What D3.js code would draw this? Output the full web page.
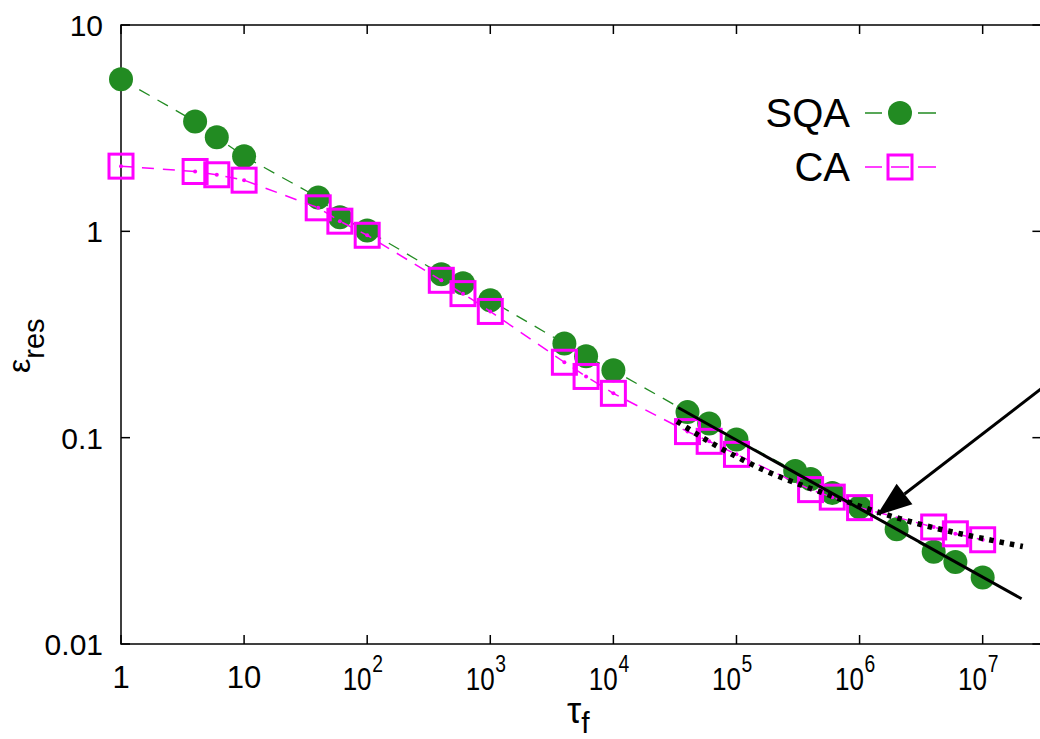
<!DOCTYPE html>
<html>
<head>
<meta charset="utf-8">
<style type="text/css">
html, body{
	padding: 0;
	margin: 0;
	background: white;
}
text {
	font-family: "Liberation Sans", Arial, sans-serif;
	fill: black;
}
</style>
</head>
<body>
<svg width=1040 height=739></svg>

<script type="text/javascript" src="https://cdn.jsdelivr.net/npm/d3@7"></script>
<script type="text/javascript">
// data
var sqaTau = [1,4,6,10,40,60,100,400,600,1000,4000,6000,1e4,4e4,6e4,1e5,3e5,4e5,6e5,1e6,2e6,4e6,6e6,1e7];
var sqaEps = [5.46,3.41,2.86,2.31,1.46,1.17,1.01,0.62,0.56,0.463,0.286,0.248,0.212,0.133,0.117,0.098,0.069,0.063,0.054,0.046,0.036,0.028,0.025,0.021];
var caTau = [1,4,6,10,40,60,100,400,600,1000,4000,6000,1e4,4e4,6e4,1e5,4e5,6e5,1e6,4e6,6e6,1e7];
var caEps = [2.07,1.95,1.88,1.77,1.30,1.12,0.957,0.579,0.499,0.409,0.232,0.198,0.164,0.107,0.096,0.083,0.056,0.0515,0.0458,0.0369,0.0342,0.032];
var fitSolidTau = [3.35e4,2.07e7];
var fitSolidEps = [0.140,0.01657];
var fitDottedTau = [3.29e4,5.76e4,1.03e5,1.77e5,3.10e5,6.08e5,1.01e6,2.93e6,1.19e7,2.12e7];
var fitDottedEps = [0.120,0.0970,0.0802,0.0686,0.0600,0.0519,0.0465,0.0384,0.0318,0.0297];
var arrowTau = [6e7,1.38e6];
var arrowEps = [0.238,0.042];
var xTicks = [1,10,1e2,1e3,1e4,1e5,1e6,1e7];
var yTicks = [0.01,0.1,1,10];
var yTickLabels = ['0.01','0.1','1','10'];
var legendNames = ['SQA','CA'];

var svg = d3.select('svg');
var x = d3.scaleLog().domain([1,3e7]).range([121,1041.4]);
var y = d3.scaleLog().domain([0.01,10]).range([644,25]);
var green = '#228b22', magenta = '#ff00ff';

// frame
svg.append('rect')
	.attr('x',x(1)).attr('y',y(10))
	.attr('width',x(3e7)-x(1)).attr('height',y(0.01)-y(10))
	.style('fill','none').style('stroke','black').style('stroke-width',1.5);

// ticks (inward, all four sides)
var tk = 9;
xTicks.forEach(t=>{
	svg.append('line').attr('x1',x(t)).attr('x2',x(t)).attr('y1',y(0.01)).attr('y2',y(0.01)-tk)
		.style('stroke','black').style('stroke-width',1.5);
	svg.append('line').attr('x1',x(t)).attr('x2',x(t)).attr('y1',y(10)).attr('y2',y(10)+tk)
		.style('stroke','black').style('stroke-width',1.5);
});
yTicks.forEach(t=>{
	svg.append('line').attr('x1',x(1)).attr('x2',x(1)+tk).attr('y1',y(t)).attr('y2',y(t))
		.style('stroke','black').style('stroke-width',1.5);
	svg.append('line').attr('x1',x(3e7)).attr('x2',x(3e7)-tk).attr('y1',y(t)).attr('y2',y(t))
		.style('stroke','black').style('stroke-width',1.5);
});

// y tick labels
svg.selectAll('.ylab').data(yTicks).enter().append('text')
	.attr('x',103).attr('y',d=>y(d)+11)
	.style('font-size','30px').style('text-anchor','end')
	.text((d,p)=>yTickLabels[p]);

// x tick labels
xTicks.forEach((t,p)=>{
	if(p<2){
		svg.append('text').attr('x',x(t)).attr('y',688)
			.style('font-size','31px').style('text-anchor','middle')
			.text(p==0?'1':'10');
	} else {
		var g = svg.append('g').attr('transform','translate('+x(t)+',0) scale(0.84,1)');
		g.append('text').attr('x',-12).attr('y',690)
			.style('font-size','31px').style('text-anchor','middle').text('10');
		g.append('text').attr('x',6).attr('y',672)
			.style('font-size','23px').style('text-anchor','start').text(p);
	}
});

// axis titles
var xt = svg.append('text').attr('x',567).attr('y',723).style('font-size','36px');
xt.append('tspan').text('τ');
xt.append('tspan').attr('dy',10).style('font-size','30px').text('f');

var yt = svg.append('text').attr('transform','translate(30,373) rotate(-90)').style('font-size','32px');
yt.append('tspan').text('ε');
yt.append('tspan').attr('dy',14).style('font-size','29px').text('res');

// series lines
var line = d3.line().x(d=>x(d[0])).y(d=>y(d[1]));
var sqa = sqaTau.map((d,p)=>[d,sqaEps[p]]);
var ca = caTau.map((d,p)=>[d,caEps[p]]);

svg.append('path').attr('d',line(sqa))
	.style('fill','none').style('stroke',green).style('stroke-width',1.3).style('stroke-dasharray','12,9');
svg.selectAll('.sqa').data(sqa).enter().append('circle')
	.attr('cx',d=>x(d[0])).attr('cy',d=>y(d[1])).attr('r',12)
	.style('fill',green);

svg.append('path').attr('d',line(ca))
	.style('fill','none').style('stroke',magenta).style('stroke-width',1.5).style('stroke-dasharray','12,9');
svg.selectAll('.ca').data(ca).enter().append('rect')
	.attr('x',d=>x(d[0])-12).attr('y',d=>y(d[1])-12).attr('width',24).attr('height',24)
	.style('fill','none').style('stroke',magenta).style('stroke-width',3);
svg.selectAll('.cadot').data(ca).enter().append('circle')
	.attr('cx',d=>x(d[0])).attr('cy',d=>y(d[1])).attr('r',2)
	.style('fill',magenta);

// fits
svg.append('path').attr('d',line(fitSolidTau.map((d,p)=>[d,fitSolidEps[p]])))
	.style('fill','none').style('stroke','black').style('stroke-width',3);
var curve = d3.line().x(d=>x(d[0])).y(d=>y(d[1])).curve(d3.curveMonotoneX);
svg.append('path').attr('d',curve(fitDottedTau.map((d,p)=>[d,fitDottedEps[p]])))
	.style('fill','none').style('stroke','black').style('stroke-width',5.5).style('stroke-dasharray','4.5,6');

// arrow
var a0 = [x(arrowTau[0]),y(arrowEps[0])], a1 = [x(arrowTau[1]),y(arrowEps[1])];
var ang = Math.atan2(a1[1]-a0[1],a1[0]-a0[0]);
var hl = 35, hw = 13;
var bx = a1[0]-hl*Math.cos(ang), by = a1[1]-hl*Math.sin(ang);
svg.append('line').attr('x1',a0[0]).attr('y1',a0[1]).attr('x2',bx).attr('y2',by)
	.style('stroke','black').style('stroke-width',3);
svg.append('path')
	.attr('d','M'+a1[0]+','+a1[1]+'L'+(bx+hw*Math.sin(ang))+','+(by-hw*Math.cos(ang))+'L'+(bx-hw*Math.sin(ang))+','+(by+hw*Math.cos(ang))+'Z')
	.style('fill','black');

// legend
var ly = [113,167];
legendNames.forEach((n,p)=>{
	svg.append('text').attr('x',850).attr('y',ly[p]+14)
		.style('font-size','40px').style('text-anchor','end').text(n);
	var c = p==0?green:magenta;
	svg.append('line').attr('x1',865).attr('x2',936).attr('y1',ly[p]).attr('y2',ly[p])
		.style('stroke',c).style('stroke-width',p==0?1.3:1.5).style('stroke-dasharray','17,36,18');
	if(p==0){
		svg.append('circle').attr('cx',900).attr('cy',ly[p]).attr('r',12).style('fill',green);
	} else {
		svg.append('rect').attr('x',888).attr('y',ly[p]-12).attr('width',24).attr('height',24)
			.style('fill','none').style('stroke',magenta).style('stroke-width',3);
		svg.append('line').attr('x1',891).attr('x2',909).attr('y1',ly[p]).attr('y2',ly[p])
			.style('stroke',magenta).style('stroke-width',1.5);
	}
});
</script>
</body>
</html>
